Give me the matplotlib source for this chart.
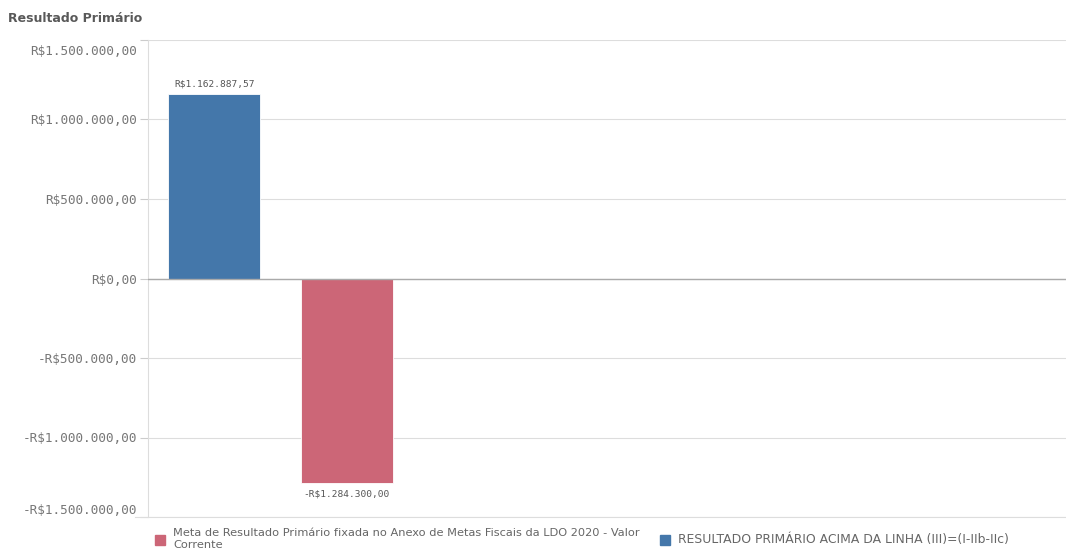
import matplotlib
matplotlib.use("Agg")
import matplotlib.pyplot as plt
from matplotlib.patches import Rectangle
from matplotlib.transforms import ScaledTranslation

title = "Resultado Primário"
series_names = [
    "Meta de Resultado Primário fixada no Anexo de Metas Fiscais da LDO 2020 - Valor\nCorrente",
    "RESULTADO PRIMÁRIO ACIMA DA LINHA (III)=(I-IIb-IIc)",
]
series_colors = ["#cc6677", "#4477aa"]
bar_values = [1162887.57, -1284300.00]
bar_colors = ["#4477aa", "#cc6677"]
bar_labels = ["R$1.162.887,57", "-R$1.284.300,00"]
yticks = [-1500000, -1000000, -500000, 0, 500000, 1000000, 1500000]
ytick_labels = ["-R$1.500.000,00", "-R$1.000.000,00", "-R$500.000,00", "R$0,00",
                "R$500.000,00", "R$1.000.000,00", "R$1.500.000,00"]

fig = plt.figure(figsize=(10.66, 5.49), dpi=100)
ax = fig.add_axes([148/1066, 32/549, 1 - 148/1066, (517-40)/549])

xs = list(range(len(bar_values)))
ax.bar(xs, bar_values, width=0.694, color=bar_colors, edgecolor="white",
       linewidth=0.6, zorder=3)
ax.set_xlim(-0.5, 6.43)
ax.set_ylim(-1500000, 1500000)

for x, v, lab in zip(xs, bar_values, bar_labels):
    off = 4 if v > 0 else -5
    ax.annotate(lab, (x, v), xytext=(0, off), textcoords="offset points",
                ha="center", va="bottom" if v > 0 else "top",
                fontsize=6.8, color="#555555", family="DejaVu Sans Mono")

ax.set_yticks(yticks)
ax.set_yticklabels(ytick_labels, family="DejaVu Sans Mono", fontsize=9.2, color="#777777")
ax.tick_params(axis="y", length=6, color="#cccccc", width=0.8, pad=2)
ax.tick_params(axis="x", bottom=False, labelbottom=False)
tl = ax.get_yticklabels()
tl[0].set_va("center")
tl[0].set_transform(tl[0].get_transform() + ScaledTranslation(0, 5/72, fig.dpi_scale_trans))
tl[-1].set_va("center")
tl[-1].set_transform(tl[-1].get_transform() + ScaledTranslation(0, -8/72, fig.dpi_scale_trans))
ax.grid(axis="y", color="#dddddd", linewidth=0.8, zorder=0)
ax.axhline(0, color="#aaaaaa", linewidth=1, zorder=4)
for s in ["top", "right", "bottom"]:
    ax.spines[s].set_visible(False)
ax.spines["left"].set_color("#dddddd")
ax.spines["left"].set_linewidth(0.8)
fig.add_artist(plt.Line2D([135/1066, 1.0], [32/549, 32/549], color="#dddddd", linewidth=0.8))

fig.text(8/1066, 1 - 18/549, title, fontsize=9, fontweight="bold", color="#595959",
         va="center", ha="left")

# legend
lx = [155, 660]
lsizes = [8.2, 8.9]
for xpix, name, col, fs in zip(lx, series_names, series_colors, lsizes):
    fig.add_artist(Rectangle((xpix/1066, 1 - 545/549), 10/1066, 10/549,
                             transform=fig.transFigure, color=col))
    fig.text((xpix + 18)/1066, 1 - 539.5/549, name, fontsize=fs, color="#666666",
             va="center", ha="left", linespacing=1.25)

fig.savefig("out.png", dpi=100)
